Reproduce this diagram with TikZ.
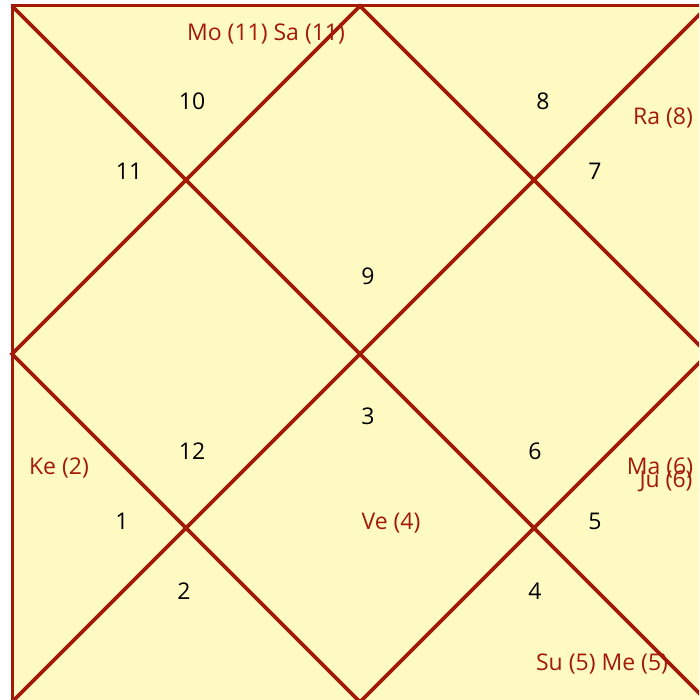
\documentclass[tikz,border=0pt]{standalone}
\usepackage{fontspec}
\setmainfont{Open Sans}
\definecolor{chartline}{RGB}{162,26,8}
\definecolor{chartfill}{RGB}{255,250,194}
\begin{document}
\begin{tikzpicture}[x=1pt,y=-1pt,
  lbl/.style={font=\fontsize{23}{24}\selectfont,inner sep=0pt,anchor=center},
  num/.style={lbl,text=black},
  planet/.style={lbl,text=chartline},
  chart/.style={draw=chartline,line width=3.6pt},
  frame/.style={draw=chartline,line width=3pt,fill=chartfill}]
\useasboundingbox (0,0) rectangle (699,700);
\fill[white] (0,0) rectangle (699,700);
\begin{scope}
\clip (0,0) rectangle (699,700);
\coordinate (TL) at (12,6);
\coordinate (TR) at (708,6);
\coordinate (BL) at (12,702);
\coordinate (BR) at (708,702);
\coordinate (T) at (360,6);
\coordinate (L) at (12,354);
\coordinate (R) at (708,354);
\coordinate (B) at (360,702);
\path[frame] (TL) rectangle (BR);
\draw[chart] (TL) -- (BR);
\draw[chart] (TR) -- (BL);
\draw[chart] (T) -- (R) -- (B) -- (L) -- cycle;
\end{scope}
\node[num] (h10) at (192,101) {10};
\node[num] (h11) at (129,171) {11};
\node[num] (h8) at (543,101) {8};
\node[num] (h7) at (595,171) {7};
\node[num] (h9) at (368,276) {9};
\node[num] (h3) at (368,416) {3};
\node[num] (h12) at (192,451) {12};
\node[num] (h1) at (122,521) {1};
\node[num] (h2) at (184,591) {2};
\node[num] (h6) at (535,451) {6};
\node[num] (h5) at (595,521) {5};
\node[num] (h4) at (535,591) {4};
\node[planet] (pMoSa) at (266,33.5) {Mo (11) Sa (11)};
\node[planet] (pRa) at (663,117.5) {Ra (8)};
\node[planet] (pKe) at (59,467.5) {Ke (2)};
\node[planet] (pVe) at (391,523.5) {Ve (4)};
\node[planet] (pMa) at (660,467.5) {Ma (6)};
\node[planet] (pJu) at (666,481.5) {Ju (6)};
\node[planet] (pSuMe) at (602,663.5) {Su (5) Me (5)};
\end{tikzpicture}
\end{document}
